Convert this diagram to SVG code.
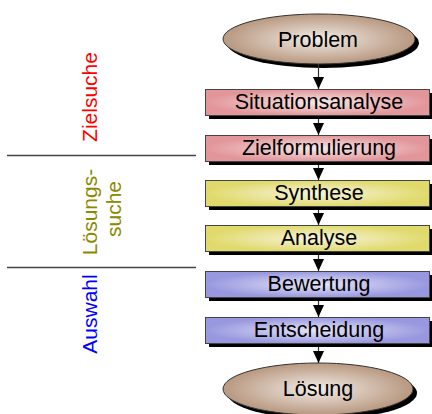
<svg xmlns="http://www.w3.org/2000/svg" width="432" height="414" viewBox="0 0 432 414">
<defs>
<radialGradient id="gEll" cx="0.5" cy="0.5" r="0.5">
<stop offset="0" stop-color="#F2ECE6"/>
<stop offset="1" stop-color="#B89880"/>
</radialGradient>
<radialGradient id="gRed" cx="0.5" cy="0.5" r="0.5">
<stop offset="0" stop-color="#F6E8E8"/>
<stop offset="1" stop-color="#E2969A"/>
</radialGradient>
<radialGradient id="gYel" cx="0.5" cy="0.5" r="0.5">
<stop offset="0" stop-color="#F6F4DC"/>
<stop offset="1" stop-color="#E0DA6C"/>
</radialGradient>
<radialGradient id="gBlu" cx="0.5" cy="0.5" r="0.5">
<stop offset="0" stop-color="#E6E6F6"/>
<stop offset="1" stop-color="#9898E0"/>
</radialGradient>
<marker id="arr" viewBox="0 0 12 11" refX="12" refY="5.5" markerWidth="12" markerHeight="11" markerUnits="userSpaceOnUse" orient="auto">
<path d="M0,0 L12,5.5 L0,11 Z" fill="#000"/>
</marker>
</defs>
<style>
.shadow{fill:#000}
.ell{stroke:#333;stroke-width:1}
.box{stroke:#444;stroke-width:1}
.lbl{font-family:"Liberation Sans",Arial,sans-serif;font-size:21.5px;fill:#000;text-anchor:middle}
.side{font-family:"Liberation Sans",Arial,sans-serif;font-size:21px;text-anchor:middle}
.sep{stroke:#444;stroke-width:1.3}
.con{stroke:#333;stroke-width:1.2;fill:none;marker-end:url(#arr)}
</style>
<g id="separators">
<line class="sep" x1="7" y1="155.5" x2="196" y2="155.5"/>
<line class="sep" x1="7" y1="267.5" x2="196" y2="267.5"/>
</g>
<g id="phase-zielsuche">
<text class="side" fill="#FF0000" transform="translate(97,97) rotate(-90)">Zielsuche</text>
</g>
<g id="phase-loesungssuche">
<text class="side" fill="#8A8A00" transform="translate(97,212) rotate(-90)">Lösungs-</text>
<text class="side" fill="#8A8A00" transform="translate(121,209) rotate(-90)">suche</text>
</g>
<g id="phase-auswahl">
<text class="side" fill="#0000FF" transform="translate(97,314) rotate(-90)">Auswahl</text>
</g>
<g id="problem">
<ellipse class="shadow" cx="323" cy="43" rx="96" ry="25"/>
<ellipse class="ell" cx="319" cy="39" rx="96" ry="25" fill="url(#gEll)"/>
<text class="lbl" x="318" y="47">Problem</text>
</g>
<g id="situationsanalyse">
<rect class="shadow" x="209" y="93" width="224" height="26"/>
<rect class="box" x="205.5" y="89.5" width="224" height="26" fill="url(#gRed)"/>
<text class="lbl" x="319" y="109">Situationsanalyse</text>
</g>
<g id="zielformulierung">
<rect class="shadow" x="209" y="139" width="224" height="26"/>
<rect class="box" x="205.5" y="135.5" width="224" height="26" fill="url(#gRed)"/>
<text class="lbl" x="319" y="155">Zielformulierung</text>
</g>
<g id="synthese">
<rect class="shadow" x="209" y="184" width="224" height="26"/>
<rect class="box" x="205.5" y="180.5" width="224" height="26" fill="url(#gYel)"/>
<text class="lbl" x="319" y="200">Synthese</text>
</g>
<g id="analyse">
<rect class="shadow" x="209" y="229" width="224" height="26"/>
<rect class="box" x="205.5" y="225.5" width="224" height="26" fill="url(#gYel)"/>
<text class="lbl" x="319" y="245">Analyse</text>
</g>
<g id="bewertung">
<rect class="shadow" x="209" y="275" width="224" height="26"/>
<rect class="box" x="205.5" y="271.5" width="224" height="26" fill="url(#gBlu)"/>
<text class="lbl" x="319" y="291">Bewertung</text>
</g>
<g id="entscheidung">
<rect class="shadow" x="209" y="321" width="224" height="26"/>
<rect class="box" x="205.5" y="317.5" width="224" height="26" fill="url(#gBlu)"/>
<text class="lbl" x="319" y="337">Entscheidung</text>
</g>
<g id="loesung">
<ellipse class="shadow" cx="322" cy="393" rx="95" ry="26"/>
<ellipse class="ell" cx="318" cy="389" rx="95" ry="26" fill="url(#gEll)"/>
<text class="lbl" x="318" y="396">Lösung</text>
</g>
<g id="connectors">
<line class="con" x1="318.5" y1="64" x2="318.5" y2="89"/>
<line class="con" x1="318.5" y1="119" x2="318.5" y2="135"/>
<line class="con" x1="318.5" y1="165" x2="318.5" y2="180"/>
<line class="con" x1="318.5" y1="210" x2="318.5" y2="225"/>
<line class="con" x1="318.5" y1="255" x2="318.5" y2="271"/>
<line class="con" x1="318.5" y1="301" x2="318.5" y2="317"/>
<line class="con" x1="318.5" y1="347" x2="318.5" y2="363"/>
</g>
</svg>
